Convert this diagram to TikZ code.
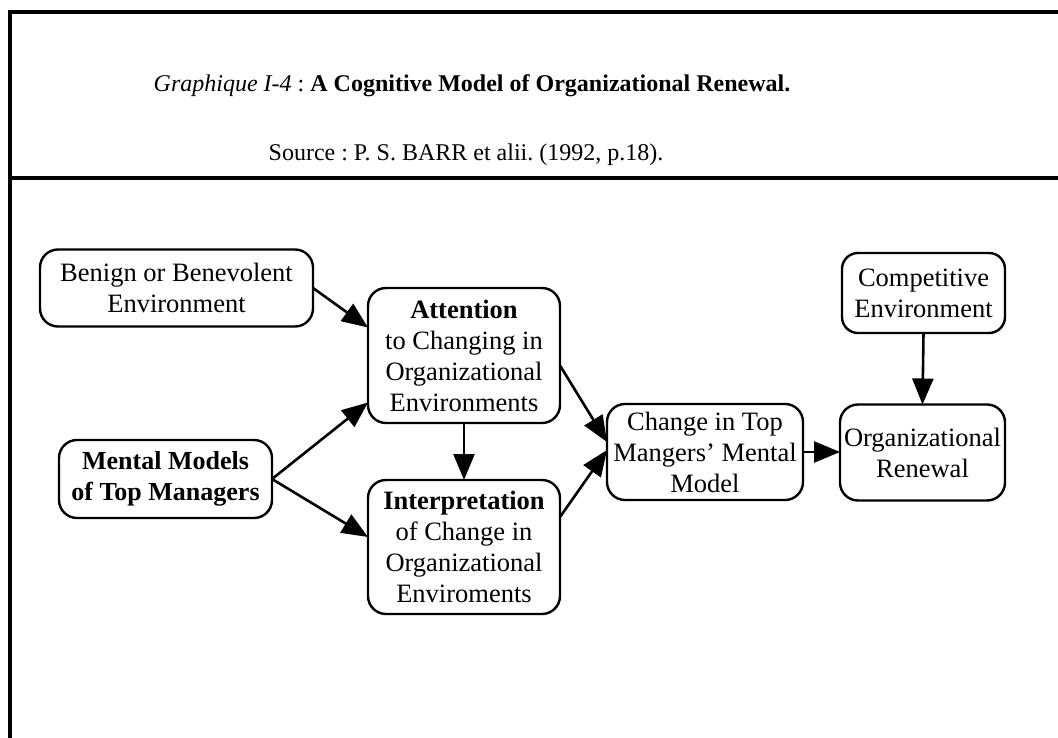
\documentclass[tikz,border=0pt]{standalone}
\usepackage{fontspec}
\setmainfont{Liberation Serif}
\usetikzlibrary{arrows.meta}
\frenchspacing
\begin{document}
\begin{tikzpicture}[x=1pt,y=-1pt,
  every node/.style={inner sep=0pt,outer sep=0pt},
  box/.style={draw,line width=2.4pt,rounded corners=18pt,align=center,
    font=\fontsize{26.5}{31}\selectfont},
  smallbox/.style={box,rounded corners=16pt},
  link/.style={line width=2.6pt,-{Triangle[length=26pt,width=21pt]}},
  frame/.style={line width=3.4pt}]
\useasboundingbox (0,0) rectangle (1058,738);
% page frame: left rule, top rule and the rule under the caption
\coordinate (tl) at (10,12);
\coordinate (bl) at (10,738);
\coordinate (tr) at (1058,12);
\coordinate (ml) at (10,178);
\coordinate (mr) at (1058,178);
\draw[frame] (bl) -- (tl) -- (tr);
\draw[frame] (ml) -- (mr);
% caption
\node (title) at (472,86) {\fontsize{24}{28}\selectfont\textit{Graphique I-4} : \textbf{A Cognitive Model of Organizational Renewal.}};
\node (source) at (466,155) {\fontsize{24}{28}\selectfont Source : P. S. BARR et alii. (1992, p.18).};
% boxes
\node[box,minimum width=273pt,minimum height=77pt] (benign) at (176.5,288) {Benign or Benevolent\\Environment};
\node[box,minimum width=213pt,minimum height=78pt,font=\fontsize{26}{31}\selectfont] (mental) at (165.5,479) {\textbf{Mental Models}\\\textbf{of Top Managers}};
\node[box,minimum width=192pt,minimum height=135pt] (attn) at (464,355.5) {\textbf{Attention}\\to Changing in\\Organizational\\Environments};
\node[box,minimum width=192pt,minimum height=134pt] (interp) at (464,547) {\textbf{Interpretation}\\of Change in\\Organizational\\Enviroments};
\node[box,minimum width=196pt,minimum height=96pt] (change) at (705,452) {Change in Top\\Mangers’ Mental\\Model};
\node[box,minimum width=165pt,minimum height=96pt] (renewal) at (922.5,452.5) {Organizational\\Renewal};
\node[smallbox,minimum width=163pt,minimum height=80pt] (compet) at (923.5,293) {Competitive\\Environment};
% connectors
\draw[link] (benign.east) -- ([yshift=28pt]attn.west);
\draw[link] (mental.east) -- ([yshift=-47pt]attn.west);
\draw[link] (mental.east) -- ([yshift=10pt]interp.west);
\draw[link] (attn.south) -- (interp.north);
\draw[link] ([yshift=-10pt]attn.east) -- ([yshift=10pt]change.west);
\draw[link] ([yshift=30pt]interp.east) -- ([yshift=2pt]change.west);
\draw[link] (change.east) -- (change.east -| renewal.west);
\draw[link] (compet.south) -- (renewal.north);
\end{tikzpicture}
\end{document}
